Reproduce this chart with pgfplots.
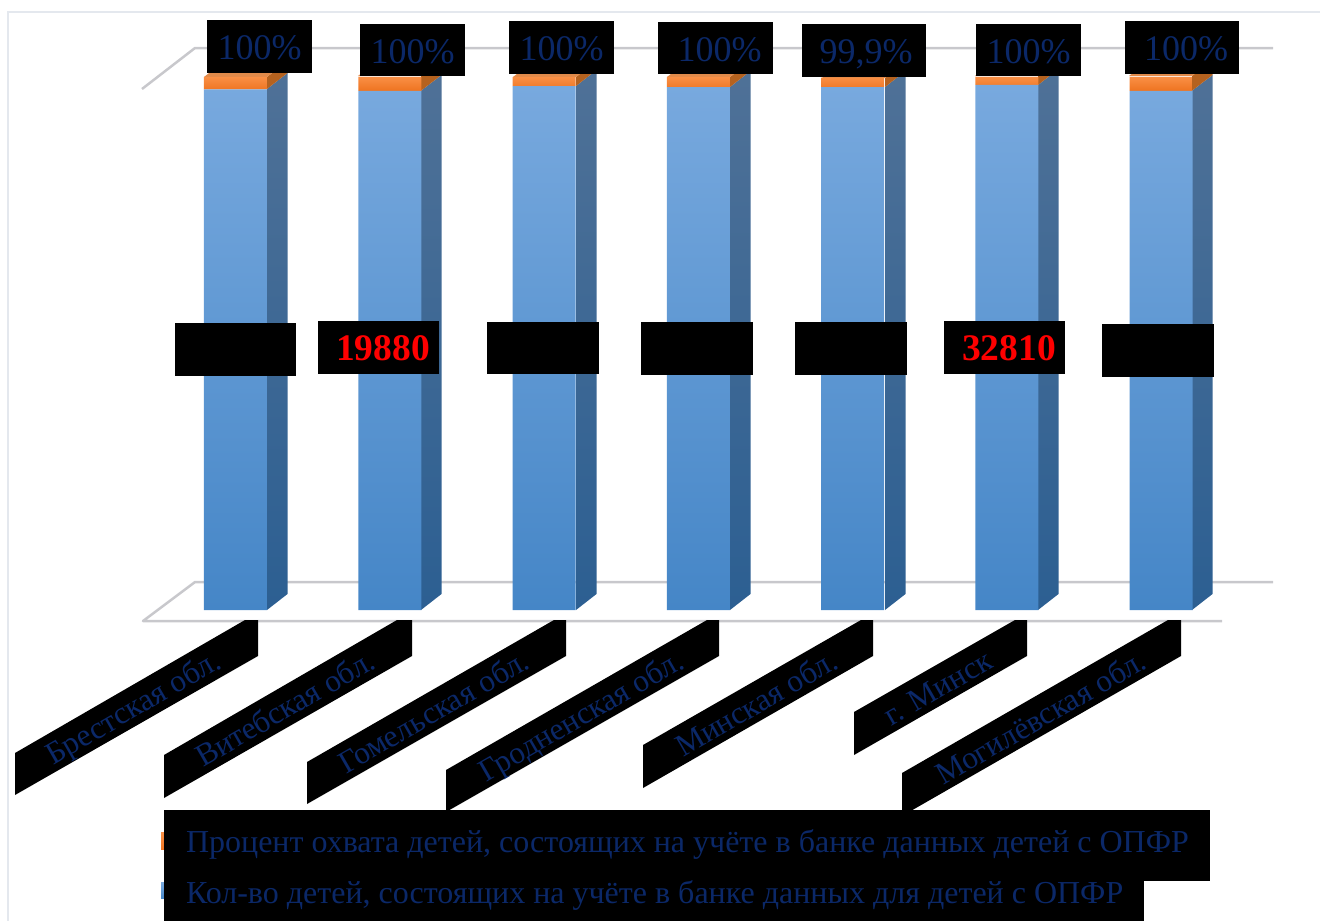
\documentclass[border=0pt]{standalone}
\usepackage{fontspec}
\setmainfont{Liberation Serif}
\usepackage{pgfplots}
\pgfplotsset{compat=1.18}
\usepackage{pgfplotstable}

\definecolor{navytext}{HTML}{0B2868}
\definecolor{gridc}{HTML}{C8C8CC}
\definecolor{framec}{HTML}{E4E8EE}
\definecolor{bluetop}{HTML}{78A9DE}
\definecolor{bluemid}{HTML}{5A9BDA}
\definecolor{bluebot}{HTML}{4586C7}
\definecolor{orangetop}{HTML}{F98F45}
\definecolor{orangebot}{HTML}{EE7320}
\definecolor{sidetop}{HTML}{4F7197}
\definecolor{sidebot}{HTML}{2C5F92}
\definecolor{sideor}{HTML}{B5621F}
\definecolor{topor}{HTML}{E08A4A}

% shares of each column, percent
\pgfplotstableread{
idx blue orange
0   97.7 2.3
1   97.4 2.6
2   98.3 1.7
3   98.1 1.9
4   98.1 1.8
5   98.5 1.5
6   97.4 2.6
}\shares

\newcommand\ticktxt{\fontsize{31.5}{36}\selectfont}
\newcommand\labtxt{\fontsize{36}{42}\selectfont}
\newcommand\redtxt{\fontsize{37.5}{42}\selectfont\bfseries}
\newcommand\legtxt[4]{{\setlength{\fboxsep}{0pt}\colorbox{black}{\rule{0pt}{#2}\rule[-#3]{0pt}{#3}\makebox[#1][l]{\hspace{22pt}\textcolor{navytext}{#4}}}}}

\pgfplotsset{
  pxaxis/.style={
    at={(0pt,0pt)},anchor=south west,
    width=1320pt,height=921pt,scale only axis,
    xmin=0,xmax=1320,ymin=0,ymax=921,y dir=reverse,
    hide axis,clip=false},
}
\tikzset{
  side/.style={draw=none,top color=sidetop,bottom color=sidebot},
  lab/.style={fill=black,inner sep=0pt,text=navytext,font=\labtxt,text height=40pt,text depth=13pt},
  mid/.style={fill=black,inner sep=0pt,text=red,font=\redtxt,text height=40pt,text depth=13pt},
}

\begin{document}
\begin{tikzpicture}
\path[use as bounding box] (0pt,0pt) rectangle (1320pt,921pt);

% frame, walls, side faces and the black strips under the tick labels
\begin{axis}[pxaxis]
\addplot[framec,line width=2.5pt] coordinates {(8,921)(8,12)(1320,12)};
\addplot[gridc,line width=2.5pt] coordinates {(142,89)(195,48)(1273,48)};
\addplot[gridc,line width=2.5pt,line join=round] coordinates {(1273,582)(195,582)(143,621)(1222,621)};

\addplot[side] coordinates {(267,89)(287.5,73)(287.5,594)(267,610)} --cycle;
\addplot[side] coordinates {(421,90.7)(441.5,75)(441.5,594)(421,610)} --cycle;
\addplot[side] coordinates {(576,86)(596.5,70)(596.5,594)(576,610)} --cycle;
\addplot[side] coordinates {(730,87)(750.5,71)(750.5,594)(730,610)} --cycle;
\addplot[side] coordinates {(885,87)(905.5,71)(905.5,594)(885,610)} --cycle;
\addplot[side] coordinates {(1038,85)(1058.5,69)(1058.5,594)(1038,610)} --cycle;
\addplot[side] coordinates {(1192,90.7)(1212.5,75)(1212.5,594)(1192,610)} --cycle;

\addplot[draw=none,fill=sideor] coordinates {(267,77)(287.5,61)(287.5,73)(267,89)} --cycle;
\addplot[draw=none,fill=sideor] coordinates {(421,76)(441.5,60)(441.5,75)(421,90.7)} --cycle;
\addplot[draw=none,fill=sideor] coordinates {(576,77)(596.5,61)(596.5,70)(576,86)} --cycle;
\addplot[draw=none,fill=sideor] coordinates {(730,77)(750.5,61)(750.5,71)(730,87)} --cycle;
\addplot[draw=none,fill=sideor] coordinates {(885,78)(905.5,62)(905.5,71)(885,87)} --cycle;
\addplot[draw=none,fill=sideor] coordinates {(1038,76)(1058.5,60)(1058.5,69)(1038,85)} --cycle;
\addplot[draw=none,fill=sideor] coordinates {(1192,76)(1212.5,60)(1212.5,75)(1192,90.7)} --cycle;

\addplot[draw=none,fill=topor] coordinates {(204,77)(267,77)(287.5,61)(224.5,61)} --cycle;
\addplot[draw=none,fill=topor] coordinates {(358,76)(421,76)(441.5,60)(378.5,60)} --cycle;
\addplot[draw=none,fill=topor] coordinates {(513,77)(576,77)(596.5,61)(533.5,61)} --cycle;
\addplot[draw=none,fill=topor] coordinates {(667,77)(730,77)(750.5,61)(687.5,61)} --cycle;
\addplot[draw=none,fill=topor] coordinates {(822,78)(885,78)(905.5,62)(842.5,62)} --cycle;
\addplot[draw=none,fill=topor] coordinates {(975,76)(1038,76)(1058.5,60)(995.5,60)} --cycle;
\addplot[draw=none,fill=topor] coordinates {(1129,76)(1192,76)(1212.5,60)(1149.5,60)} --cycle;

\addplot[draw=none,fill=black] coordinates {(15,753)(245,620)(258,620)(258,656)(15,795)} --cycle;
\addplot[draw=none,fill=black] coordinates {(164,755)(397,620)(412,620)(412,656)(164,798)} --cycle;
\addplot[draw=none,fill=black] coordinates {(307,762)(554,620)(566,620)(566,656)(307,804)} --cycle;
\addplot[draw=none,fill=black] coordinates {(446,770)(707,620)(719,620)(719,656)(446,812)} --cycle;
\addplot[draw=none,fill=black] coordinates {(643,745)(861,620)(873,620)(873,656)(643,788)} --cycle;
\addplot[draw=none,fill=black] coordinates {(854,712)(1015,620)(1027,620)(1027,656)(854,755)} --cycle;
\addplot[draw=none,fill=black] coordinates {(902,773)(1168,620)(1181,620)(1181,656)(902,816)} --cycle;
\end{axis}

% the columns, tick labels and legend
\begin{axis}[
  at={(0pt,311pt)},anchor=south west,
  width=1320pt,height=610pt,scale only axis,
  ybar stacked,bar width=63pt,
  xmin=-1.5267,xmax=7.031,ymin=0,ymax=114.447,
  axis line style={draw=none},
  major tick length=0pt,
  ytick=\empty,
  xtick={0,1,2,3,4,5,6},
  xticklabels={Брестская обл.,Витебская обл.,Гомельская обл.,Гродненская обл.,Минская обл.,г. Минск,Могилёвская обл.},
  xticklabel style={rotate=30,anchor=base east,font=\ticktxt,text=navytext,xshift=-35.7pt,yshift=-43.3pt},
  reverse legend,
  legend cell align=left,
  legend style={
    at={(axis description cs:0.122,-0.4836)},anchor=south west,
    draw=none,fill=none,inner sep=0pt,outer sep=0pt,
    font=\fontsize{32}{36}\selectfont,
    nodes={inner sep=0pt,outer sep=0pt},
    /tikz/row sep=27pt,/tikz/column sep=0pt},
]
\addplot[draw=none,top color=bluetop,middle color=bluemid,bottom color=bluebot,
  legend image code/.code={\fill[bluemid] (0pt,-6pt) rectangle (3pt,10pt);}] table[x=idx,y=blue] {\shares};
\addlegendentry{\legtxt{980pt}{21pt}{19pt}{Кол-во детей, состоящих на учёте в банке данных для детей с ОПФР}}
\addplot[draw=none,top color=orangetop,bottom color=orangebot,
  legend image code/.code={\fill[orangebot] (0pt,-18pt) rectangle (3pt,-1pt);}] table[x=idx,y=orange] {\shares};
\addlegendentry{\legtxt{1046pt}{42pt}{29pt}{Процент охвата детей, состоящих на учёте в банке данных детей с ОПФР}}
\end{axis}

% value labels
\begin{axis}[pxaxis]
\node[lab,minimum width=105pt] at (axis cs:259.5,46.5) {100\%};
\node[lab,minimum width=105pt,text depth=12pt] at (axis cs:412.5,50) {100\%};
\node[lab,minimum width=105pt] at (axis cs:561.5,47.5) {100\%};
\node[lab,minimum width=115pt,text depth=12pt] at (axis cs:715.5,48) {\hspace*{8pt}100\%};
\node[lab,minimum width=124pt] at (axis cs:864,50.5) {\hspace*{4pt}99,9\%};
\node[lab,minimum width=105pt,text depth=12pt] at (axis cs:1028.5,50) {100\%};
\node[lab,minimum width=114pt] at (axis cs:1182,47.5) {\hspace*{8pt}100\%};

\node[mid,minimum width=121pt] at (axis cs:235.5,349.5) {};
\node[mid,minimum width=121pt] at (axis cs:378.5,347.5) {\hspace*{9pt}19880};
\node[mid,minimum width=112pt,text depth=12pt] at (axis cs:543,348) {};
\node[mid,minimum width=112pt] at (axis cs:697,348.5) {};
\node[mid,minimum width=112pt] at (axis cs:851,348.5) {};
\node[mid,minimum width=121pt] at (axis cs:1004.5,347.5) {\hspace*{9pt}32810};
\node[mid,minimum width=112pt] at (axis cs:1158,350.5) {};
\end{axis}
\end{tikzpicture}
\end{document}
